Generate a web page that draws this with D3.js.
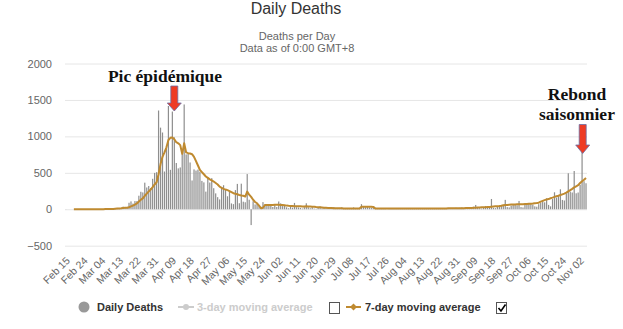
<!DOCTYPE html>
<html><head><meta charset="utf-8">
<script src="https://cdn.jsdelivr.net/npm/d3@7"></script>
<style>body{margin:0;background:#fff}svg{display:block}</style>
</head><body>
<svg id="c" width="623" height="329"></svg>
<script>
// ---- DATA (France, daily deaths, Feb 15 – Nov 05 2020) ----
const firstDay = "2020-02-15";
const lastDayExclusive = "2020-11-06";

const dailyFeb = [1,0,0,0,0,0,0,0,0,0,0,1,0,0,0];
const dailyMar = [0,1,1,0,2,3,2,8,6,8,15,13,18,12,36,21,27,89,108,78,112,112,186,240,231,365,299,319,292,418,499];
const dailyApr = [509,1355,1120,1053,518,833,1417,541,1341,987,635,561,574,762,1438,753,761,642,395,547,531,544,516,389,369,242,437,367,427,289];
const dailyMay = [218,166,135,306,330,278,178,243,80,70,263,348,83,351,104,96,483,131,-217,110,66,74,43,35,98,65,66,52,57,31,57];
const dailyJun = [31,107,81,44,46,27,13,54,23,87,28,24,19,10,29,82,28,14,28,10,7,23,39,12,20,14,5,10,23,30];
const dailyJul = [18,14,18,25,9,8,15,13,14,25,12,3,4,70,30,28,32,26,20,25,8,7,11,14,12,6,1,14,16,12,6];
const dailyAug = [10,6,12,15,9,8,13,14,11,9,12,10,17,13,12,9,11,14,13,15,10,11,12,14,13,16,12,15,11,14,20];
const dailySep = [15,20,25,12,8,10,25,30,35,59,25,15,10,30,45,38,40,141,20,15,40,45,50,55,129,30,25,50,60,70];
const dailyOct = [55,114,30,25,60,80,75,70,65,40,35,70,90,110,95,151,60,40,140,233,160,180,274,128,120,219,494,242,230,525,219];
const dailyNov = [230,334,830,385,357];

const avgFeb = [null,null,null,null,0,0,0,0,0,0,0,0,0,0,0];
const avgMar = [0,0,1,1,1,2,2,3,4,5,7,9,11,13,17,20,22,28,40,50,64,80,106,130,150,185,215,245,270,305,340];
const avgApr = [370,480,620,720,780,850,950,980,985,960,920,905,880,760,905,780,770,765,755,720,660,600,540,510,480,450,430,410,395,380];
const avgMay = [360,340,310,295,280,270,262,250,235,220,212,205,196,190,185,175,242,200,170,130,100,82,50,14,20,59,60,58,60,60,62];
const avgJun = [62,62,60,57,54,50,47,45,44,43,42,41,40,39,38,40,39,37,35,33,30,28,26,24,22,20,18,17,16,15];
const avgJul = [14,14,13,13,12,12,12,12,12,12,12,12,12,36,36,35,35,34,33,32,12,11,10,10,10,10,10,10,10,10,10];
const avgAug = [10,10,10,10,10,11,11,11,11,11,11,11,11,11,11,12,12,12,12,12,12,12,12,12,12,12,13,13,13,13,14];
const avgSep = [14,14,15,15,16,16,17,18,20,22,24,25,26,27,28,30,32,36,38,40,42,44,48,55,59,60,62,64,65,66];
const avgOct = [68,70,70,70,71,72,74,76,78,82,85,90,105,115,125,135,140,151,160,170,178,185,195,205,215,228,245,262,280,300,315];
const avgNov = [330,360,385,405,430];

const tickLabels = ["Feb 15","Feb 24","Mar 04","Mar 13","Mar 22","Mar 31","Apr 09","Apr 18","Apr 27","May 06","May 15","May 24","Jun 02","Jun 11","Jun 20","Jun 29","Jul 08","Jul 17","Jul 26","Aug 04","Aug 13","Aug 22","Aug 31","Sep 09","Sep 18","Sep 27","Oct 06","Oct 15","Oct 24","Nov 02"];
const yTicks = [-500,0,500,1000,1500,2000];

const daily = [].concat(dailyFeb,dailyMar,dailyApr,dailyMay,dailyJun,dailyJul,dailyAug,dailySep,dailyOct,dailyNov);
const avg7 = [].concat(avgFeb,avgMar,avgApr,avgMay,avgJun,avgJul,avgAug,avgSep,avgOct,avgNov);

// ---- CHART ----
const svg = d3.select("#c");
const fmt = d3.timeFormat("%b %d");
const days = d3.timeDay.range(d3.timeParse("%Y-%m-%d")(firstDay), d3.timeParse("%Y-%m-%d")(lastDayExclusive)).map(fmt);
const idx = d3.range(days.length);

const L = 65, R = 587, T = 63.5, B = 245.7;
const x = d3.scaleBand().domain(idx).range([L, R]).padding(0);
const cx = i => x(i) + x.bandwidth()/2;
const y = d3.scaleLinear().domain([-500, 2000]).range([B, T]);

// titles
const sans = "'Liberation Sans', Arial, sans-serif";
svg.append("text").attr("x",296).attr("y",13.5).attr("text-anchor","middle")
  .style("font-family",sans).style("font-size","16px").attr("fill","#333").text("Daily Deaths");
svg.append("text").attr("x",297).attr("y",39.5).attr("text-anchor","middle")
  .style("font-family",sans).style("font-size","11px").attr("fill","#666").text("Deaths per Day");
svg.append("text").attr("x",297).attr("y",52).attr("text-anchor","middle")
  .style("font-family",sans).style("font-size","11px").attr("fill","#666").text("Data as of 0:00 GMT+8");

// y axis + grid
const gy = svg.append("g").attr("transform",`translate(${L},0)`)
  .call(d3.axisLeft(y).tickValues(yTicks).tickSize(-(R-L)).tickPadding(13).tickFormat(d3.format("d")));
gy.select(".domain").remove();
gy.selectAll(".tick line").attr("stroke","#e6e6e6");
gy.selectAll(".tick text").attr("fill","#666").style("font-family",sans).style("font-size","11px");

// x axis
const tickIdx = tickLabels.map(l => days.indexOf(l));
const gx = svg.append("g").attr("transform",`translate(0,${B})`)
  .call(d3.axisBottom(x).tickValues(tickIdx).tickSize(0).tickFormat(i => days[i]));
gx.select(".domain").remove();
gx.selectAll(".tick text")
  .attr("y",0).attr("dy","0.35em")
  .attr("transform","translate(2,13) rotate(-45)")
  .attr("text-anchor","end").attr("fill","#666")
  .style("font-family",sans).style("font-size","10.5px");

// bars
svg.append("g").selectAll("rect").data(daily).join("rect")
  .attr("x",(d,i)=>cx(i)-0.6).attr("width",1.2)
  .attr("y",d=>y(Math.max(d,0))).attr("height",d=>Math.abs(y(d)-y(0)))
  .attr("fill","#8e8e8e");

// 7-day line
const lineColor = "#bf8a30";
svg.append("path").datum(avg7)
  .attr("d", d3.line().defined(d=>d!=null).x((d,i)=>cx(i)).y(d=>y(d)))
  .attr("fill","none").attr("stroke",lineColor).attr("stroke-width",2).attr("stroke-linejoin","round");

// legend
const lg = svg.append("g").style("font-family",sans).style("font-size","11px").style("font-weight","bold");
lg.append("circle").attr("cx",84).attr("cy",307).attr("r",5.5).attr("fill","#999");
lg.append("text").attr("x",97).attr("y",311).attr("fill","#333").text("Daily Deaths");
lg.append("line").attr("x1",178).attr("x2",194).attr("y1",307).attr("y2",307).attr("stroke","#ccc").attr("stroke-width",2);
lg.append("circle").attr("cx",186).attr("cy",307).attr("r",3).attr("fill","#ccc");
lg.append("text").attr("x",197).attr("y",311).attr("fill","#ccc").text("3-day moving average");
lg.append("rect").attr("x",329.5).attr("y",302.5).attr("width",10).attr("height",11).attr("fill","#fff").attr("stroke","#555");
lg.append("line").attr("x1",346).attr("x2",361).attr("y1",307).attr("y2",307).attr("stroke",lineColor).attr("stroke-width",2);
lg.append("path").attr("d","M353.5,303.5 L357,307 L353.5,310.5 L350,307 Z").attr("fill",lineColor);
lg.append("text").attr("x",365).attr("y",311).attr("fill","#333").text("7-day moving average");
lg.append("rect").attr("x",496.5).attr("y",302.5).attr("width",10).attr("height",11).attr("fill","#fff").attr("stroke","#555");
lg.append("path").attr("d","M498.5,308 L501,311 L505.5,304.5").attr("fill","none").attr("stroke","#000").attr("stroke-width",1.6);

// annotations
const serif = "'Liberation Serif', 'Times New Roman', serif";
const ann = svg.append("g").style("font-family",serif).style("font-weight","bold").style("font-size","17.5px").attr("fill","#111");
ann.append("text").attr("x",165).attr("y",81.5).attr("text-anchor","middle").text("Pic épidémique");
ann.append("text").attr("x",577).attr("y",100).attr("text-anchor","middle").text("Rebond");
ann.append("text").attr("x",577).attr("y",119.5).attr("text-anchor","middle").text("saisonnier");

function arrow(xc, yTop, yHead, yTip){
  svg.append("path")
    .attr("d",`M${xc-3.5},${yTop} L${xc+3.5},${yTop} L${xc+3.5},${yHead} L${xc+7},${yHead} L${xc},${yTip} L${xc-7},${yHead} L${xc-3.5},${yHead} Z`)
    .attr("fill","#ee3b24").attr("stroke","#6a6fa6").attr("stroke-width",0.8);
}
arrow(174.3, 86, 103, 111);
arrow(582.7, 124.5, 145, 153.5);
</script>
</body></html>
